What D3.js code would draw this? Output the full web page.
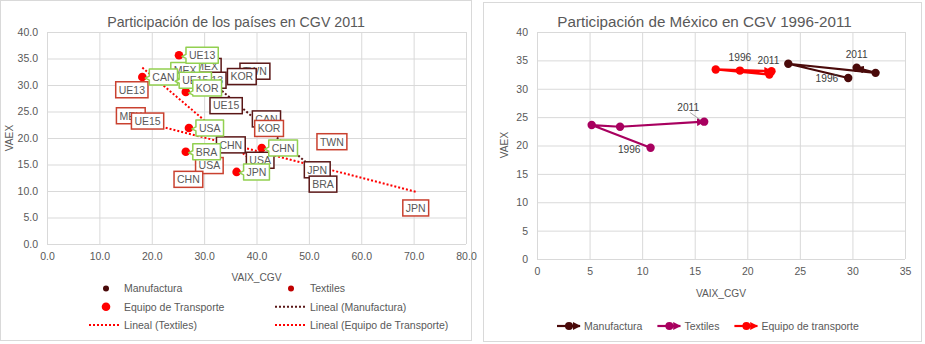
<!DOCTYPE html>
<html><head><meta charset="utf-8">
<script src="https://cdn.jsdelivr.net/npm/d3@7"></script>
<style>body{margin:0;background:#fff;} svg{display:block;font-family:"Liberation Sans",Arial,sans-serif;}</style>
</head><body><svg id="c" width="925" height="344"></svg>
<script>
// ---------- Left chart data (2011) ----------
const manufCountries = ["MEX","TWN","KOR","UE13","UE15","CAN","CHN","USA","JPN","BRA"];
const manufX = [30.5,39.7,37.2,31.1,34.2,41.9,35.1,40.7,51.6,52.7];
const manufY = [33.5,32.6,31.6,30.9,26.1,23.6,18.7,15.8,14.0,11.3];

const textCountries = ["MEX","UE13","UE15","USA","CHN","KOR","TWN","JPN"];
const textX = [16.0,16.2,19.2,31.0,27.0,42.4,54.4,70.4];
const textY = [24.2,29.1,23.2,14.8,12.2,21.8,19.3,6.8];

const equipCountries = ["MEX","UE13","CAN","UE15","KOR","USA","BRA","JPN","CHN"];
const equipX = [22.3,25.2,18.2,23.9,26.5,27.1,26.5,36.2,41.0];
const equipY = [32.0,35.6,31.5,30.9,28.7,21.9,17.4,13.6,18.1];

const leftXTicks = [0,10,20,30,40,50,60,70,80];
const leftYTicks = [0,5,10,15,20,25,30,35,40];

// ---------- Right chart data (México 1996-2011) ----------
const mxYears = ["1996","","","2011"];
const mxManufX = [29.6,23.9,32.2,30.4];
const mxManufY = [31.9,34.4,32.8,33.7];
const mxTextX = [10.8,5.2,7.9,15.9];
const mxTextY = [19.6,23.6,23.3,24.2];
const mxEquipX = [19.3,22.1,17.0,22.3];
const mxEquipY = [33.2,32.5,33.4,33.1];

const rightXTicks = [0,5,10,15,20,25,30,35];
const rightYTicks = [0,5,10,15,20,25,30,35,40];

// label vertical nudges (px) for the callouts of "Equipo de Transporte"
const equipLabelNudge = {MEX:-4, KOR:-4};

// ---------- setup ----------
const svg = d3.select("#c");
const GRID = "#d9d9d9", TXT = "#595959";
const C_MAN = "#4a0a0a", C_TEX = "#c00000", C_EQ = "#ff0000";
const B_MAN = "#5a1717", B_TEX = "#c9412f", B_EQ = "#92d050";
const C_MX_TEX = "#a8005f";

svg.append("rect").attr("x",0.5).attr("y",0.5).attr("width",471).attr("height",340)
  .attr("fill","#fff").attr("stroke",GRID);
svg.append("rect").attr("x",483.5).attr("y",2.5).attr("width",438).attr("height",339)
  .attr("fill","#fff").attr("stroke",GRID);

function zip(xs, ys, names){ return xs.map((x,i)=>({x, y:ys[i], name: names ? names[i] : ""})); }

function drawAxes(g, x, y, xt, yt, fmt){
  const [x0,x1] = x.range(), [y0,y1] = y.range();
  const ax = g.append("g").attr("transform",`translate(0,${y0})`)
    .call(d3.axisBottom(x).tickValues(xt).tickFormat(fmt).tickSize(-(y0-y1)).tickPadding(9));
  const ay = g.append("g").attr("transform",`translate(${x0},0)`)
    .call(d3.axisLeft(y).tickValues(yt).tickFormat(fmt).tickSize(-(x1-x0)).tickPadding(9));
  [ax,ay].forEach(a=>{
    a.select(".domain").remove();
    a.selectAll("line").attr("stroke",GRID).attr("stroke-width",1);
    a.selectAll("text").attr("fill",TXT).style("font-size","10.5px").style("font-family","Liberation Sans, Arial, sans-serif");
  });
}

function regress(pts){
  const mx=d3.mean(pts,d=>d.x), my=d3.mean(pts,d=>d.y);
  let sxy=0,sxx=0; pts.forEach(p=>{sxy+=(p.x-mx)*(p.y-my); sxx+=(p.x-mx)**2;});
  const b=sxy/sxx, a=my-b*mx;
  const [lo,hi]=d3.extent(pts,d=>d.x);
  return [{x:lo,y:a+b*lo},{x:hi,y:a+b*hi}];
}

// ================= LEFT CHART =================
const xL = d3.scaleLinear().domain([0,80]).range([47,466]);
const yL = d3.scaleLinear().domain([0,40]).range([244,32]);
const gL = svg.append("g");
drawAxes(gL, xL, yL, leftXTicks, leftYTicks, d3.format(".1f"));

gL.append("text").attr("x",236).attr("y",27).attr("text-anchor","middle")
  .attr("fill",TXT).style("font-size","14.2px").text("Participación de los países en CGV 2011");
gL.append("text").attr("x",256.5).attr("y",280.5).attr("text-anchor","middle")
  .attr("fill",TXT).style("font-size","10.2px").text("VAIX_CGV");
gL.append("text").attr("transform",`translate(13,138) rotate(-90)`).attr("text-anchor","middle")
  .attr("fill",TXT).style("font-size","10.2px").text("VAEX");

const manPts = zip(manufX, manufY, manufCountries);
const texPts = zip(textX, textY, textCountries);
const eqPts = zip(equipX, equipY, equipCountries);

gL.append("g").selectAll("circle").data(manPts).join("circle")
  .attr("cx",d=>xL(d.x)).attr("cy",d=>yL(d.y)).attr("r",3).attr("fill",C_MAN);
gL.append("g").selectAll("circle").data(texPts).join("circle")
  .attr("cx",d=>xL(d.x)).attr("cy",d=>yL(d.y)).attr("r",3).attr("fill",C_TEX);
gL.append("g").selectAll("circle").data(eqPts).join("circle")
  .attr("cx",d=>xL(d.x)).attr("cy",d=>yL(d.y)).attr("r",4.3).attr("fill",C_EQ);

const lineL = d3.line().x(d=>xL(d.x)).y(d=>yL(d.y));
[[manPts,B_MAN],[texPts,C_EQ],[eqPts,C_EQ]].forEach(([pts,col])=>{
  gL.append("path").attr("d",lineL(regress(pts))).attr("fill","none")
    .attr("stroke",col).attr("stroke-width",2).attr("stroke-dasharray","2 2");
});

function boxLabels(pts, border){
  pts.forEach(d=>{
    const cx=xL(d.x), cy=yL(d.y);
    const g=gL.append("g");
    const r=g.append("rect");
    const t=g.append("text").attr("x",cx).attr("y",cy+3.8).attr("text-anchor","middle")
      .attr("fill",TXT).style("font-size","10.5px").text(d.name);
    const w=t.node().getComputedTextLength()+6, h=16;
    r.attr("x",cx-w/2).attr("y",cy-h/2).attr("width",w).attr("height",h)
      .attr("fill","#fff").attr("stroke",border).attr("stroke-width",1.5);
  });
}
boxLabels(manPts, B_MAN);
boxLabels(texPts, B_TEX);

eqPts.forEach(d=>{
  const px=xL(d.x), py=yL(d.y);
  const ly = py + (equipLabelNudge[d.name]||0);
  const g=gL.append("g");
  const p=g.append("path");
  const x0=px+7;
  const t=g.append("text").attr("x",x0+3).attr("y",ly+3.8)
    .attr("fill",TXT).style("font-size","10.5px").text(d.name);
  const w=t.node().getComputedTextLength()+6, h=16;
  const y0=ly-h/2, y1=ly+h/2, x1=x0+w;
  const wy = Math.min(Math.max(py, y0+3), y1-3);
  const path=`M${x0},${y0}H${x1}V${y1}H${x0}V${wy+3}L${px+3},${py+1}L${x0},${wy-1}Z`;
  p.attr("d",path).attr("fill","#fff").attr("stroke",B_EQ).attr("stroke-width",1.5).attr("stroke-linejoin","round");
});

const legL = gL.append("g").style("font-size","10.5px");
function legText(x,y,s){ legL.append("text").attr("x",x).attr("y",y+3.8).attr("fill",TXT).text(s); }
legL.append("circle").attr("cx",106).attr("cy",288.5).attr("r",3).attr("fill",C_MAN);
legText(124,288.5,"Manufactura");
legL.append("circle").attr("cx",291).attr("cy",288.5).attr("r",3).attr("fill",C_TEX);
legText(310,288.5,"Textiles");
legL.append("circle").attr("cx",106).attr("cy",306.7).attr("r",4.3).attr("fill",C_EQ);
legText(124,306.7,"Equipo de Transporte");
legL.append("line").attr("x1",275).attr("x2",305).attr("y1",306.7).attr("y2",306.7)
  .attr("stroke",B_MAN).attr("stroke-width",2).attr("stroke-dasharray","2 2");
legText(310,306.7,"Lineal (Manufactura)");
legL.append("line").attr("x1",89).attr("x2",119).attr("y1",325).attr("y2",325)
  .attr("stroke",C_EQ).attr("stroke-width",2).attr("stroke-dasharray","2 2");
legText(124,325,"Lineal (Textiles)");
legL.append("line").attr("x1",275).attr("x2",305).attr("y1",325).attr("y2",325)
  .attr("stroke",C_EQ).attr("stroke-width",2).attr("stroke-dasharray","2 2");
legText(310,325,"Lineal (Equipo de Transporte)");

// ================= RIGHT CHART =================
const xR = d3.scaleLinear().domain([0,35]).range([537,905]);
const yR = d3.scaleLinear().domain([0,40]).range([259,32]);
const gR = svg.append("g");
drawAxes(gR, xR, yR, rightXTicks, rightYTicks, d3.format("d"));

gR.append("text").attr("x",704.5).attr("y",27).attr("text-anchor","middle")
  .attr("fill",TXT).style("font-size","15.2px").text("Participación de México en CGV 1996-2011");
gR.append("text").attr("x",721).attr("y",296.5).attr("text-anchor","middle")
  .attr("fill",TXT).style("font-size","10.2px").text("VAIX_CGV");
gR.append("text").attr("transform",`translate(508,145) rotate(-90)`).attr("text-anchor","middle")
  .attr("fill",TXT).style("font-size","10.2px").text("VAEX");

const defs = svg.append("defs");
function arrowMarker(id,col){
  defs.append("marker").attr("id",id).attr("viewBox","0 0 10 10").attr("refX",9).attr("refY",5)
    .attr("markerUnits","userSpaceOnUse").attr("markerWidth",8).attr("markerHeight",8).attr("orient","auto")
    .append("path").attr("d","M0,0L10,5L0,10Z").attr("fill",col);
}
arrowMarker("aMan",C_MAN); arrowMarker("aTex",C_MX_TEX); arrowMarker("aEq",C_EQ);

const mxSeries = [
  {name:"Manufactura", col:C_MAN, arrow:"aMan", pts:zip(mxManufX,mxManufY,mxYears)},
  {name:"Textiles", col:C_MX_TEX, arrow:"aTex", pts:zip(mxTextX,mxTextY,mxYears)},
  {name:"Equipo de transporte", col:C_EQ, arrow:"aEq", pts:zip(mxEquipX,mxEquipY,mxYears)}
];
const lineR = d3.line().x(d=>xR(d.x)).y(d=>yR(d.y));
mxSeries.forEach(s=>{
  const g=gR.append("g");
  g.append("path").attr("d",lineR(s.pts)).attr("fill","none")
    .attr("stroke",s.col).attr("stroke-width",2.2).attr("stroke-linejoin","round")
    .attr("marker-end",`url(#${s.arrow})`);
  g.selectAll("circle").data(s.pts).join("circle")
    .attr("cx",d=>xR(d.x)).attr("cy",d=>yR(d.y)).attr("r",4.2).attr("fill",s.col);
});

const yearLabelPos = {
  "Manufactura": [{i:0,dx:-10,dy:4,anchor:"end"},{i:3,dx:0,dy:-10,anchor:"middle"}],
  "Textiles": [{i:0,dx:-10,dy:5,anchor:"end"},{i:3,dx:-16,dy:-11,anchor:"middle",leader:true}],
  "Equipo de transporte": [{i:0,dx:0,dy:-10,anchor:"middle"},{i:3,dx:-3,dy:-7,anchor:"middle"}]
};
mxSeries.forEach(s=>{
  yearLabelPos[s.name].forEach(o=>{
    const d=s.pts[o.i], px=xR(d.x), py=yR(d.y);
    if(o.leader){
      gR.append("line").attr("x1",px-14).attr("y1",py-9).attr("x2",px-4).attr("y2",py-2)
        .attr("stroke","#a6a6a6").attr("stroke-width",1);
    }
    gR.append("text").attr("x",px+o.dx).attr("y",py+o.dy).attr("text-anchor",o.anchor)
      .attr("fill","#404040").style("font-size","10.2px").text(d.name);
  });
});

let lx = 557;
const legR = gR.append("g").style("font-size","10.5px");
mxSeries.forEach(s=>{
  legR.append("line").attr("x1",lx).attr("x2",lx+23).attr("y1",326).attr("y2",326)
    .attr("stroke",s.col).attr("stroke-width",2.2).attr("marker-end",`url(#${s.arrow})`);
  legR.append("circle").attr("cx",lx+12).attr("cy",326).attr("r",4).attr("fill",s.col);
  const t=legR.append("text").attr("x",lx+27).attr("y",329.8).attr("fill",TXT).text(s.name);
  lx += 27 + t.node().getComputedTextLength() + 15;
});
</script></body></html>
